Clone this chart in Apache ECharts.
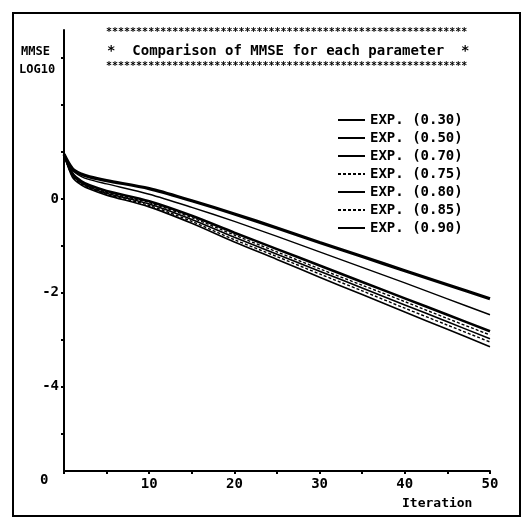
<!DOCTYPE html>
<html>
<head>
<meta charset="utf-8">
<script src="https://cdn.jsdelivr.net/npm/echarts@6/dist/echarts.min.js"></script>
<style>html,body{margin:0;padding:0;background:#fff}#c{width:524px;height:520px}</style>
</head>
<body>
<div id="c"></div>
<script>
var iterations = [0, 1, 2, 3, 5, 10, 15, 20, 25, 30, 35, 40, 45, 50];
var seriesNames = ['EXP. (0.30)', 'EXP. (0.50)', 'EXP. (0.70)', 'EXP. (0.75)', 'EXP. (0.80)', 'EXP. (0.85)', 'EXP. (0.90)'];
var exp030 = [0.95, 0.64, 0.53, 0.47, 0.39, 0.22, -0.04, -0.32, -0.62, -0.93, -1.23, -1.53, -1.83, -2.13];
var exp050 = [0.95, 0.61, 0.48, 0.41, 0.32, 0.10, -0.18, -0.48, -0.80, -1.13, -1.46, -1.79, -2.13, -2.47];
var exp070 = [0.95, 0.54, 0.38, 0.29, 0.17, -0.05, -0.36, -0.72, -1.07, -1.42, -1.77, -2.12, -2.47, -2.82];
var exp075 = [0.95, 0.52, 0.36, 0.27, 0.14, -0.08, -0.40, -0.77, -1.13, -1.49, -1.84, -2.19, -2.55, -2.90];
var exp080 = [0.95, 0.50, 0.34, 0.25, 0.12, -0.11, -0.44, -0.82, -1.18, -1.54, -1.90, -2.26, -2.62, -2.98];
var exp085 = [0.95, 0.48, 0.32, 0.23, 0.10, -0.14, -0.48, -0.87, -1.23, -1.60, -1.96, -2.33, -2.69, -3.05];
var exp090 = [0.95, 0.46, 0.30, 0.21, 0.08, -0.17, -0.52, -0.92, -1.29, -1.67, -2.04, -2.41, -2.78, -3.15];
var yTickLabels = [0, -2, -4];
var xTickLabels = [10, 20, 30, 40, 50];

var allValues = [exp030, exp050, exp070, exp075, exp080, exp085, exp090];
var lineStyles = [
  {width: 3.2, type: 'solid'},
  {width: 1.4, type: 'solid'},
  {width: 2.6, type: 'solid'},
  {width: 1.4, type: [3, 2]},
  {width: 1.6, type: 'solid'},
  {width: 1.4, type: [3, 2]},
  {width: 1.6, type: 'solid'}
];
var FONT = 'DejaVu Sans Mono';

var series = seriesNames.map(function (name, i) {
  return {
    name: name,
    type: 'line',
    symbol: 'none',
    smooth: 0.3,
    data: iterations.map(function (x, k) { return [x, allValues[i][k]]; }),
    lineStyle: {color: '#000', width: lineStyles[i].width, type: lineStyles[i].type},
    itemStyle: {color: '#000'}
  };
});

var chart = echarts.init(document.getElementById('c'), null, {renderer: 'canvas'});
chart.setOption({
  animation: false,
  backgroundColor: '#fff',
  textStyle: {fontFamily: FONT, fontWeight: 'bold', color: '#000'},
  grid: {left: 64, right: 34, top: 30, bottom: 49},
  legend: {
    show: true,
    orient: 'vertical',
    left: 332,
    top: 108,
    itemWidth: 27,
    itemHeight: 14,
    itemGap: 4,
    itemStyle: {opacity: 0},
    textStyle: {fontFamily: FONT, fontWeight: 'bold', fontSize: 14, color: '#000'},
    data: seriesNames
  },
  xAxis: {
    type: 'value',
    min: 0,
    max: 50,
    interval: 5,
    axisLine: {onZero: false, lineStyle: {color: '#000', width: 2}},
    axisTick: {show: true, length: 3, inside: false, lineStyle: {color: '#000', width: 2}},
    axisLabel: {
      customValues: xTickLabels,
      color: '#000', fontFamily: FONT, fontWeight: 'bold', fontSize: 14, margin: 6
    },
    splitLine: {show: false}
  },
  yAxis: {
    type: 'value',
    min: -5.8,
    max: 3.6,
    axisLine: {show: true, onZero: false, lineStyle: {color: '#000', width: 2}},
    axisTick: {show: true, customValues: [-5, -4, -3, -2, -1, 0, 1, 2, 3], length: 3, lineStyle: {color: '#000', width: 2}},
    axisLabel: {
      customValues: yTickLabels,
      color: '#000', fontFamily: FONT, fontWeight: 'bold', fontSize: 14, margin: 5
    },
    splitLine: {show: false}
  },
  graphic: [
    {type: 'rect', shape: {x: 13, y: 13, width: 507, height: 503}, style: {fill: 'none', stroke: '#000', lineWidth: 2}, silent: true},
    {type: 'text', left: 21, top: 46, style: {text: 'MMSE', font: 'bold 12px "DejaVu Sans Mono"', fill: '#000'}},
    {type: 'text', left: 19, top: 64, style: {text: 'LOG10', font: 'bold 12px "DejaVu Sans Mono"', fill: '#000'}},
    {type: 'text', left: 106, top: 27, style: {text: new Array(61).join('*'), font: 'bold 10px "DejaVu Sans Mono"', fill: '#000'}},
    {type: 'text', left: 106, top: 61, style: {text: new Array(61).join('*'), font: 'bold 10px "DejaVu Sans Mono"', fill: '#000'}},
    {type: 'text', left: 107, top: 44, style: {text: '*  Comparison of MMSE for each parameter  *', font: 'bold 14px "DejaVu Sans Mono"', fill: '#000'}},
    {type: 'text', left: 40, top: 473, style: {text: '0', font: 'bold 14px "DejaVu Sans Mono"', fill: '#000'}},
    {type: 'text', left: 402, top: 497, style: {text: 'Iteration', font: 'bold 13px "DejaVu Sans Mono"', fill: '#000'}}
  ],
  series: series
});
</script>
</body>
</html>
